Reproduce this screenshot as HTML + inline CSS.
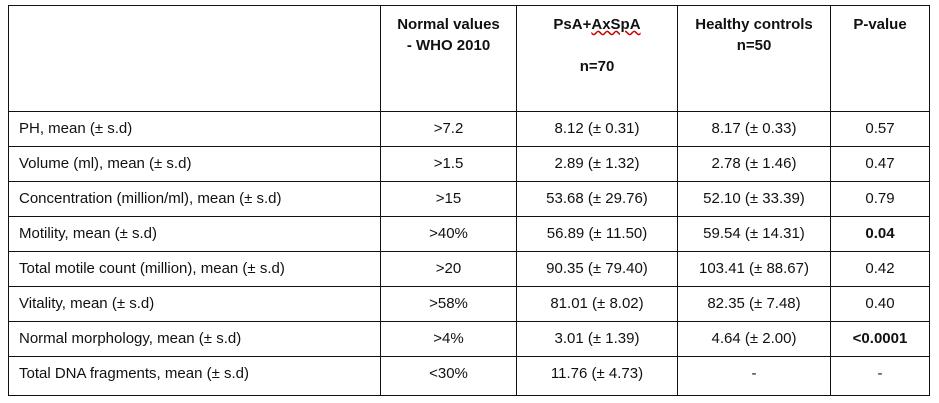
<!DOCTYPE html>
<html><head><style>
body{margin:0;background:#fff;width:939px;height:403px;overflow:hidden;font-family:"Liberation Sans",Arial,sans-serif;font-size:15px;color:#111}
table{position:absolute;left:8px;top:5px;border-collapse:collapse;table-layout:fixed}
td{border:1.3px solid #111;padding:0 8px;height:35px;text-align:center;vertical-align:top;padding-top:8px;white-space:nowrap;box-sizing:border-box}
td:first-child{text-align:left;padding-left:10px}
tr.h td{height:106px;font-weight:bold;padding-top:8px;line-height:21px}
tr.last td{height:39px}
b{font-weight:bold}
</style></head><body>
<table>
<colgroup><col style="width:372px"><col style="width:136px"><col style="width:161px"><col style="width:153px"><col style="width:99px"></colgroup>
<tr class="h"><td></td><td>Normal values<br>- WHO 2010</td><td>PsA+<span style="text-decoration:underline wavy #c00">AxSpA</span><br><br>n=70</td><td>Healthy controls<br>n=50</td><td>P-value</td></tr>
<tr><td>PH, mean (± s.d)</td><td>&gt;7.2</td><td>8.12 (± 0.31)</td><td>8.17 (± 0.33)</td><td>0.57</td></tr>
<tr><td>Volume (ml), mean (± s.d)</td><td>&gt;1.5</td><td>2.89 (± 1.32)</td><td>2.78 (± 1.46)</td><td>0.47</td></tr>
<tr><td>Concentration (million/ml), mean (± s.d)</td><td>&gt;15</td><td>53.68 (± 29.76)</td><td>52.10 (± 33.39)</td><td>0.79</td></tr>
<tr><td>Motility, mean (± s.d)</td><td>&gt;40%</td><td>56.89 (± 11.50)</td><td>59.54 (± 14.31)</td><td><b>0.04</b></td></tr>
<tr><td>Total motile count (million), mean (± s.d)</td><td>&gt;20</td><td>90.35 (± 79.40)</td><td>103.41 (± 88.67)</td><td>0.42</td></tr>
<tr><td>Vitality, mean (± s.d)</td><td>&gt;58%</td><td>81.01 (± 8.02)</td><td>82.35 (± 7.48)</td><td>0.40</td></tr>
<tr><td>Normal morphology, mean (± s.d)</td><td>&gt;4%</td><td>3.01 (± 1.39)</td><td>4.64 (± 2.00)</td><td><b>&lt;0.0001</b></td></tr>
<tr class="last"><td>Total DNA fragments, mean (± s.d)</td><td>&lt;30%</td><td>11.76 (± 4.73)</td><td>-</td><td>-</td></tr>
</table>
</body></html>
